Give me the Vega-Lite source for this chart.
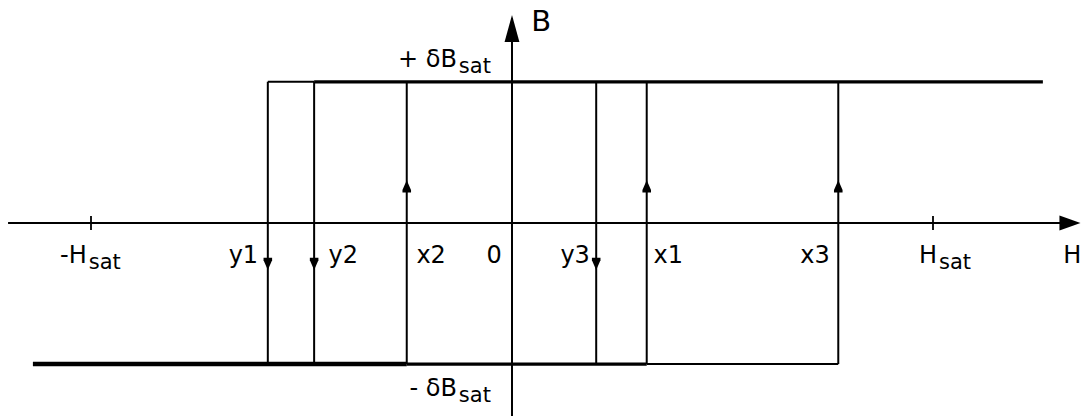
{
  "$schema": "https://vega.github.io/schema/vega-lite/v6.json",
  "width": 1082,
  "height": 417,
  "autosize": {"type": "fit", "contains": "padding"},
  "padding": 0,
  "background": "white",
  "config": {"view": {"stroke": null}},
  "resolve": {"scale": {"shape": "independent"}},
  "datasets": {
    "segments": [
      {"part": "H axis", "h1": -1.197, "b1": 0, "h2": 1.33, "b2": 0, "traces": 1},
      {"part": "B axis", "h1": 0, "b1": -1.3675, "h2": 0, "b2": 1.45, "traces": 1},
      {"part": "y1 branch", "h1": -0.58, "b1": -1, "h2": -0.58, "b2": 1, "traces": 1},
      {"part": "y2 branch", "h1": -0.47, "b1": -1, "h2": -0.47, "b2": 1, "traces": 1},
      {"part": "x2 branch", "h1": -0.25, "b1": -1, "h2": -0.25, "b2": 1, "traces": 1},
      {"part": "y3 branch", "h1": 0.2, "b1": -1, "h2": 0.2, "b2": 1, "traces": 1},
      {"part": "x1 branch", "h1": 0.32, "b1": -1, "h2": 0.32, "b2": 1, "traces": 1},
      {"part": "x3 branch", "h1": 0.775, "b1": -1, "h2": 0.775, "b2": 1, "traces": 1},
      {"part": "upper saturation", "h1": -0.58, "b1": 1, "h2": -0.47, "b2": 1, "traces": 1},
      {"part": "upper saturation", "h1": -0.47, "b1": 1, "h2": 1.261, "b2": 1, "traces": 2},
      {"part": "lower saturation", "h1": -1.138, "b1": -1, "h2": -0.25, "b2": -1, "traces": 3},
      {"part": "lower saturation", "h1": -0.25, "b1": -1, "h2": 0.32, "b2": -1, "traces": 2},
      {"part": "lower saturation", "h1": 0.32, "b1": -1, "h2": 0.775, "b2": -1, "traces": 1}
    ],
    "switching": [
      {"branch": "y1", "h": -0.58, "b": -0.29, "dir": "down"},
      {"branch": "y2", "h": -0.47, "b": -0.29, "dir": "down"},
      {"branch": "y3", "h": 0.2, "b": -0.29, "dir": "down"},
      {"branch": "x2", "h": -0.25, "b": 0.26, "dir": "up"},
      {"branch": "x1", "h": 0.32, "b": 0.26, "dir": "up"},
      {"branch": "x3", "h": 0.775, "b": 0.26, "dir": "up"}
    ],
    "axisHeads": [
      {"axis": "H", "h": 1.3254, "b": 0, "dir": "right"},
      {"axis": "B", "h": 0, "b": 1.378, "dir": "up"}
    ],
    "ticks": [
      {"name": "-Hsat", "h": -1, "b": 0},
      {"name": "Hsat", "h": 1, "b": 0}
    ],
    "labels": [
      {"text": "-H", "sub": "sat", "h": -1.01, "b": -0.286},
      {"text": "y1", "sub": "", "h": -0.603, "b": -0.286},
      {"text": "y2", "sub": "", "h": -0.366, "b": -0.286},
      {"text": "x2", "sub": "", "h": -0.157, "b": -0.286},
      {"text": "0", "sub": "", "h": -0.024, "b": -0.286},
      {"text": "y3", "sub": "", "h": 0.185, "b": -0.286},
      {"text": "x1", "sub": "", "h": 0.406, "b": -0.286},
      {"text": "x3", "sub": "", "h": 0.755, "b": -0.286},
      {"text": "H", "sub": "sat", "h": 1.0095, "b": -0.286},
      {"text": "H", "sub": "", "h": 1.352, "b": -0.286},
      {"text": "+ δB", "sub": "sat", "h": -0.131, "b": 1.106},
      {"text": "- δB", "sub": "sat", "h": -0.131, "b": -1.226}
    ],
    "axisTitles": [
      {"text": "B", "h": 0.093, "b": 1.36}
    ]
  },
  "layer": [
    {
      "data": {"name": "segments"},
      "mark": {"type": "rule", "color": "black", "strokeCap": "butt"},
      "encoding": {
        "x": {"field": "h1", "type": "quantitative", "scale": {"domain": [-1.21615, 1.35392], "nice": false, "zero": false}, "axis": null},
        "x2": {"field": "h2"},
        "y": {"field": "b1", "type": "quantitative", "scale": {"domain": [-1.3675, 1.5795], "nice": false, "zero": false}, "axis": null},
        "y2": {"field": "b2"},
        "strokeWidth": {"field": "traces", "type": "ordinal", "scale": {"domain": [1, 2, 3], "range": [2, 4.5, 7]}, "legend": null}
      }
    },
    {
      "data": {"name": "ticks"},
      "mark": {"type": "point", "shape": "M0,-1L0,1", "size": 196, "filled": false, "color": "black", "strokeWidth": 1.8, "opacity": 1},
      "encoding": {
        "x": {"field": "h", "type": "quantitative"},
        "y": {"field": "b", "type": "quantitative"}
      }
    },
    {
      "data": {"name": "switching"},
      "mark": {"type": "point", "filled": true, "color": "black", "size": 150, "opacity": 1},
      "encoding": {
        "x": {"field": "h", "type": "quantitative"},
        "y": {"field": "b", "type": "quantitative"},
        "shape": {"field": "dir", "type": "nominal", "scale": {"domain": ["up", "down"], "range": ["M0,-1L0.7,0.6L0.7,1L-0.7,1L-0.7,0.6Z", "M0,1L0.7,-0.6L0.7,-1L-0.7,-1L-0.7,-0.6Z"]}, "legend": null}
      }
    },
    {
      "data": {"name": "axisHeads"},
      "mark": {"type": "point", "filled": true, "color": "black", "size": 729, "opacity": 1},
      "encoding": {
        "x": {"field": "h", "type": "quantitative"},
        "y": {"field": "b", "type": "quantitative"},
        "shape": {"field": "dir", "type": "nominal", "scale": {"domain": ["up", "right"], "range": ["M0,-1L0.55,1L-0.55,1Z", "M0.78,0L-0.78,-0.55L-0.78,0.55Z"]}, "legend": null}
      }
    },
    {
      "data": {"name": "labels"},
      "mark": {"type": "text", "align": "right", "baseline": "alphabetic", "font": "DejaVu Sans", "fontSize": 24, "color": "black"},
      "encoding": {
        "x": {"field": "h", "type": "quantitative"},
        "y": {"field": "b", "type": "quantitative"},
        "text": {"field": "text"}
      }
    },
    {
      "data": {"name": "labels"},
      "transform": [{"filter": "datum.sub !== ''"}],
      "mark": {"type": "text", "align": "left", "baseline": "alphabetic", "font": "DejaVu Sans", "fontSize": 21, "dx": 2, "dy": 6, "color": "black"},
      "encoding": {
        "x": {"field": "h", "type": "quantitative"},
        "y": {"field": "b", "type": "quantitative"},
        "text": {"field": "sub"}
      }
    },
    {
      "data": {"name": "axisTitles"},
      "mark": {"type": "text", "align": "right", "baseline": "alphabetic", "font": "DejaVu Sans", "fontSize": 29, "color": "black"},
      "encoding": {
        "x": {"field": "h", "type": "quantitative"},
        "y": {"field": "b", "type": "quantitative"},
        "text": {"field": "text"}
      }
    }
  ]
}
